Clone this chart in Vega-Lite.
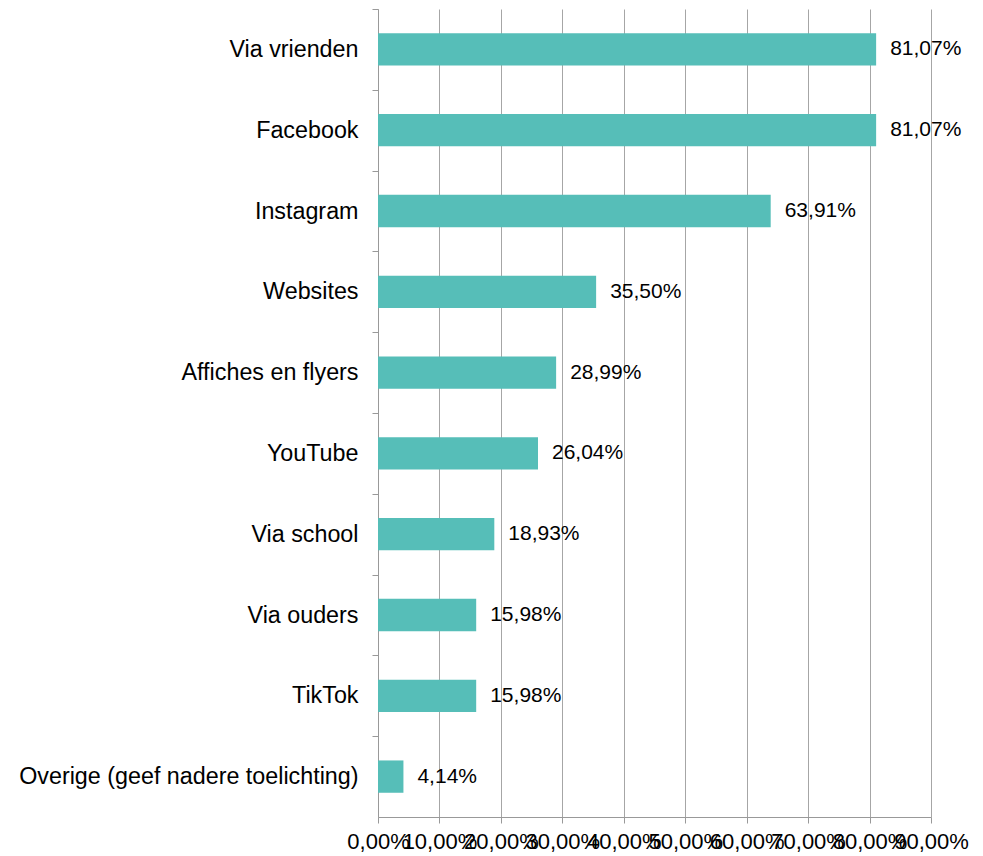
{
  "$schema": "https://vega.github.io/schema/vega-lite/v6.json",
  "width": 553,
  "height": 808,
  "autosize": "none",
  "padding": {"left": 378, "top": 9, "right": 52, "bottom": 39},
  "background": "white",
  "config": {
    "locale": {"number": {"decimal": ",", "thousands": ".", "grouping": [3], "currency": ["€", ""]}},
    "view": {"stroke": null},
    "font": "Liberation Sans"
  },
  "data": {
    "values": [
      {"categorie": "Via vrienden", "aandeel": 0.8107},
      {"categorie": "Facebook", "aandeel": 0.8107},
      {"categorie": "Instagram", "aandeel": 0.6391},
      {"categorie": "Websites", "aandeel": 0.3550},
      {"categorie": "Affiches en flyers", "aandeel": 0.2899},
      {"categorie": "YouTube", "aandeel": 0.2604},
      {"categorie": "Via school", "aandeel": 0.1893},
      {"categorie": "Via ouders", "aandeel": 0.1598},
      {"categorie": "TikTok", "aandeel": 0.1598},
      {"categorie": "Overige (geef nadere toelichting)", "aandeel": 0.0414}
    ]
  },
  "encoding": {
    "y": {
      "field": "categorie",
      "type": "nominal",
      "sort": null,
      "title": null,
      "scale": {"paddingInner": 0.6, "paddingOuter": 0.3},
      "axis": {
        "domainColor": "#999999",
        "tickColor": "#999999",
        "tickSize": 6,
        "tickOffset": -40.4,
        "labelOffset": 40.4,
        "labelFontSize": 23.3,
        "labelColor": "#000000",
        "labelPadding": 14,
        "labelLimit": 0,
        "labelFont": "Liberation Sans",
        "grid": false
      }
    },
    "x": {
      "field": "aandeel",
      "type": "quantitative",
      "title": null,
      "scale": {"domain": [0, 0.9], "nice": false},
      "axis": {
        "values": [0, 0.1, 0.2, 0.3, 0.4, 0.5, 0.6, 0.7, 0.8, 0.9],
        "format": ".2%",
        "grid": true,
        "gridColor": "#A6A6A6",
        "gridWidth": 1,
        "domainColor": "#999999",
        "tickColor": "#999999",
        "tickSize": 6,
        "labelFontSize": 22,
        "labelColor": "#000000",
        "labelPadding": 8,
        "labelOverlap": false,
        "labelBound": false,
        "labelFlush": false,
        "labelFont": "Liberation Sans"
      }
    }
  },
  "layer": [
    {"mark": {"type": "bar", "color": "#56BEB8"}},
    {
      "mark": {"type": "text", "align": "left", "baseline": "middle", "dx": 14, "fontSize": 21, "color": "#000000", "font": "Liberation Sans"},
      "encoding": {"text": {"field": "aandeel", "type": "quantitative", "format": ".2%"}}
    }
  ]
}
